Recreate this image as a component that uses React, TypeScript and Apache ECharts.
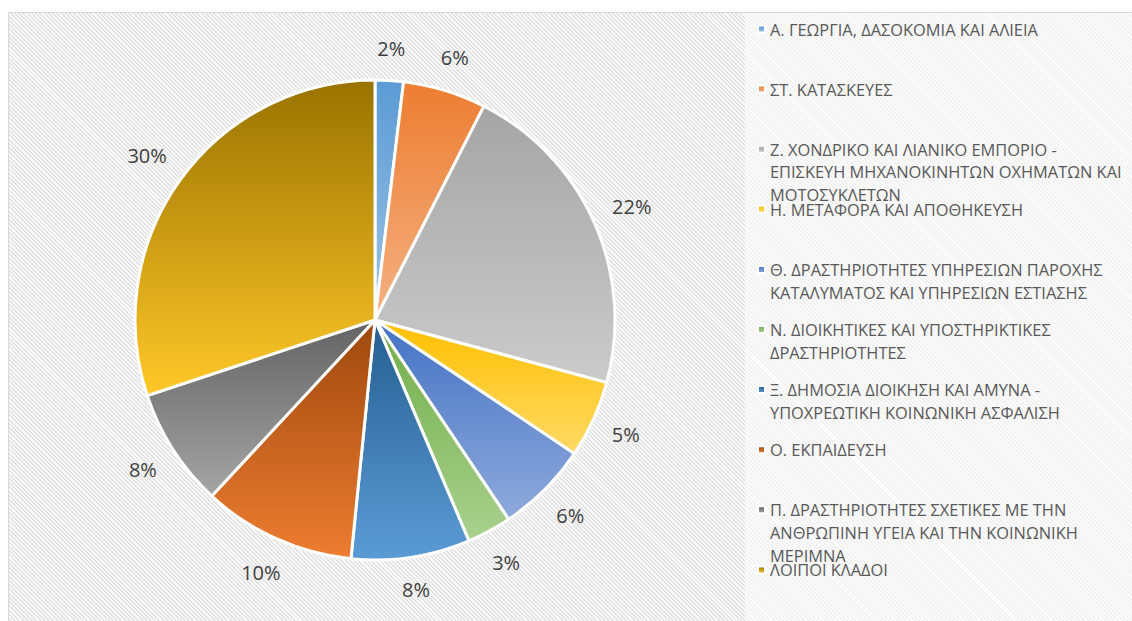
import React, { useEffect, useRef } from "react";
import * as echarts from "echarts";

const categories = [
  "Α. ΓΕΩΡΓΙΑ, ΔΑΣΟΚΟΜΙΑ ΚΑΙ ΑΛΙΕΙΑ",
  "ΣΤ. ΚΑΤΑΣΚΕΥΕΣ",
  "Ζ. ΧΟΝΔΡΙΚΟ ΚΑΙ ΛΙΑΝΙΚΟ ΕΜΠΟΡΙΟ -\nΕΠΙΣΚΕΥΗ ΜΗΧΑΝΟΚΙΝΗΤΩΝ ΟΧΗΜΑΤΩΝ ΚΑΙ\nΜΟΤΟΣΥΚΛΕΤΩΝ",
  "Η. ΜΕΤΑΦΟΡΑ ΚΑΙ ΑΠΟΘΗΚΕΥΣΗ",
  "Θ. ΔΡΑΣΤΗΡΙΟΤΗΤΕΣ ΥΠΗΡΕΣΙΩΝ ΠΑΡΟΧΗΣ\nΚΑΤΑΛΥΜΑΤΟΣ ΚΑΙ ΥΠΗΡΕΣΙΩΝ ΕΣΤΙΑΣΗΣ",
  "Ν. ΔΙΟΙΚΗΤΙΚΕΣ ΚΑΙ ΥΠΟΣΤΗΡΙΚΤΙΚΕΣ\nΔΡΑΣΤΗΡΙΟΤΗΤΕΣ",
  "Ξ. ΔΗΜΟΣΙΑ ΔΙΟΙΚΗΣΗ ΚΑΙ ΑΜΥΝΑ -\nΥΠΟΧΡΕΩΤΙΚΗ ΚΟΙΝΩΝΙΚΗ ΑΣΦΑΛΙΣΗ",
  "Ο. ΕΚΠΑΙΔΕΥΣΗ",
  "Π. ΔΡΑΣΤΗΡΙΟΤΗΤΕΣ ΣΧΕΤΙΚΕΣ ΜΕ ΤΗΝ\nΑΝΘΡΩΠΙΝΗ ΥΓΕΙΑ ΚΑΙ ΤΗΝ ΚΟΙΝΩΝΙΚΗ\nΜΕΡΙΜΝΑ",
  "ΛΟΙΠΟΙ ΚΛΑΔΟΙ",
];

// shares in percent
const values = [1.9, 5.6, 21.7, 5.2, 6.2, 3.0, 8.0, 10.3, 8.0, 30.1];

const topColors = [
  "#5B9BD5", "#ED7D31", "#A5A5A5", "#FFC000", "#4472C4",
  "#70AD47", "#255E91", "#9E480E", "#636363", "#997300",
];
const bottomColors = [
  "#9DC3E6", "#F4B183", "#CBCBCB", "#FFD966", "#8FAADC",
  "#A9D18E", "#5B9BD5", "#ED7D31", "#A5A5A5", "#FFC829",
];

const OX = 9;
const OY = 13;
const LH = 22.7;
const FIRST_LINE_Y = 29;
const SLOT = 60.1;
const LABEL_FS = 20;
const PIE_R = 240;
const LABEL_BASE_R = 257;

export default function App() {
  const ref = useRef<HTMLDivElement>(null);

  useEffect(() => {
    if (!ref.current) return;
    const chart = echarts.init(ref.current, null, { renderer: "svg" });

    const total = values.reduce((a, b) => a + b, 0);

    const data = categories.map((name, i) => ({
      name,
      value: values[i],
      itemStyle: {
        color: new echarts.graphic.LinearGradient(0, 0, 0, 1, [
          { offset: 0, color: topColors[i] },
          { offset: 1, color: bottomColors[i] },
        ]),
      },
    }));

    let cum = 0;
    const labelData = categories.map((name, i) => {
      const mid = ((cum + values[i] / 2) / total) * 2 * Math.PI;
      cum += values[i];
      const txt = Math.round((values[i] / total) * 100) + "%";
      const w = txt.length * LABEL_FS * 0.6;
      const h = LABEL_FS * 1.1;
      const extra =
        Math.abs((w / 2) * Math.sin(mid)) + Math.abs((h / 2) * Math.cos(mid));
      return {
        name,
        value: values[i],
        label: { offset: [Math.sin(mid) * extra, -Math.cos(mid) * extra] },
      };
    });

    const legends = categories.map((name, i) => {
      const n = name.split("\n").length;
      const yc = FIRST_LINE_Y + i * SLOT;
      return {
        data: [name],
        left: 757 - OX,
        top: yc - OY - (n - 1) * LH - LH / 2,
        orient: "vertical",
        padding: 0,
        itemWidth: 7,
        itemHeight: 7,
        icon: "rect",
        selectedMode: false,
        formatter: (nm: string) => "\n".repeat(nm.split("\n").length - 1) + nm,
        textStyle: {
          fontFamily: "Open Sans",
          fontSize: 16.4,
          lineHeight: LH,
          color: "#595959",
        },
      };
    });

    chart.setOption({
      animation: false,
      graphic: [
        {
          type: "rect",
          z: -10,
          silent: true,
          shape: { x: 745 - OX, y: 0, width: 420, height: 640 },
          style: { fill: "rgba(255,255,255,0.5)" },
        },
      ],
      legend: legends,
      series: [
        {
          type: "pie",
          center: [375 - OX, 320 - OY],
          radius: [0, PIE_R],
          startAngle: 90,
          clockwise: true,
          avoidLabelOverlap: false,
          silent: true,
          itemStyle: { borderColor: "#ffffff", borderWidth: 3 },
          label: { show: false },
          labelLine: { show: false },
          data,
        },
        {
          type: "pie",
          center: [375 - OX, 320 - OY],
          radius: [LABEL_BASE_R - 1, LABEL_BASE_R + 1],
          startAngle: 90,
          clockwise: true,
          silent: true,
          legendHoverLink: false,
          avoidLabelOverlap: false,
          itemStyle: { color: "rgba(0,0,0,0)", borderWidth: 0 },
          label: {
            show: true,
            position: "inside",
            formatter: (p: any) => Math.round(p.percent) + "%",
            fontFamily: "Open Sans",
            fontSize: LABEL_FS,
            color: "#404040",
          },
          labelLine: { show: false },
          data: labelData,
        },
      ],
    });

    return () => chart.dispose();
  }, []);

  return (
    <div
      ref={ref}
      style={{
        position: "fixed",
        left: 8,
        top: 12,
        width: 1130,
        height: 615,
        boxSizing: "border-box",
        border: "1px solid #d9d9d9",
        background:
          "repeating-linear-gradient(45deg, #f9f9f9 0px, #f9f9f9 1.6px, #e2e2e2 1.6px, #e2e2e2 3px)",
      }}
    />
  );
}
